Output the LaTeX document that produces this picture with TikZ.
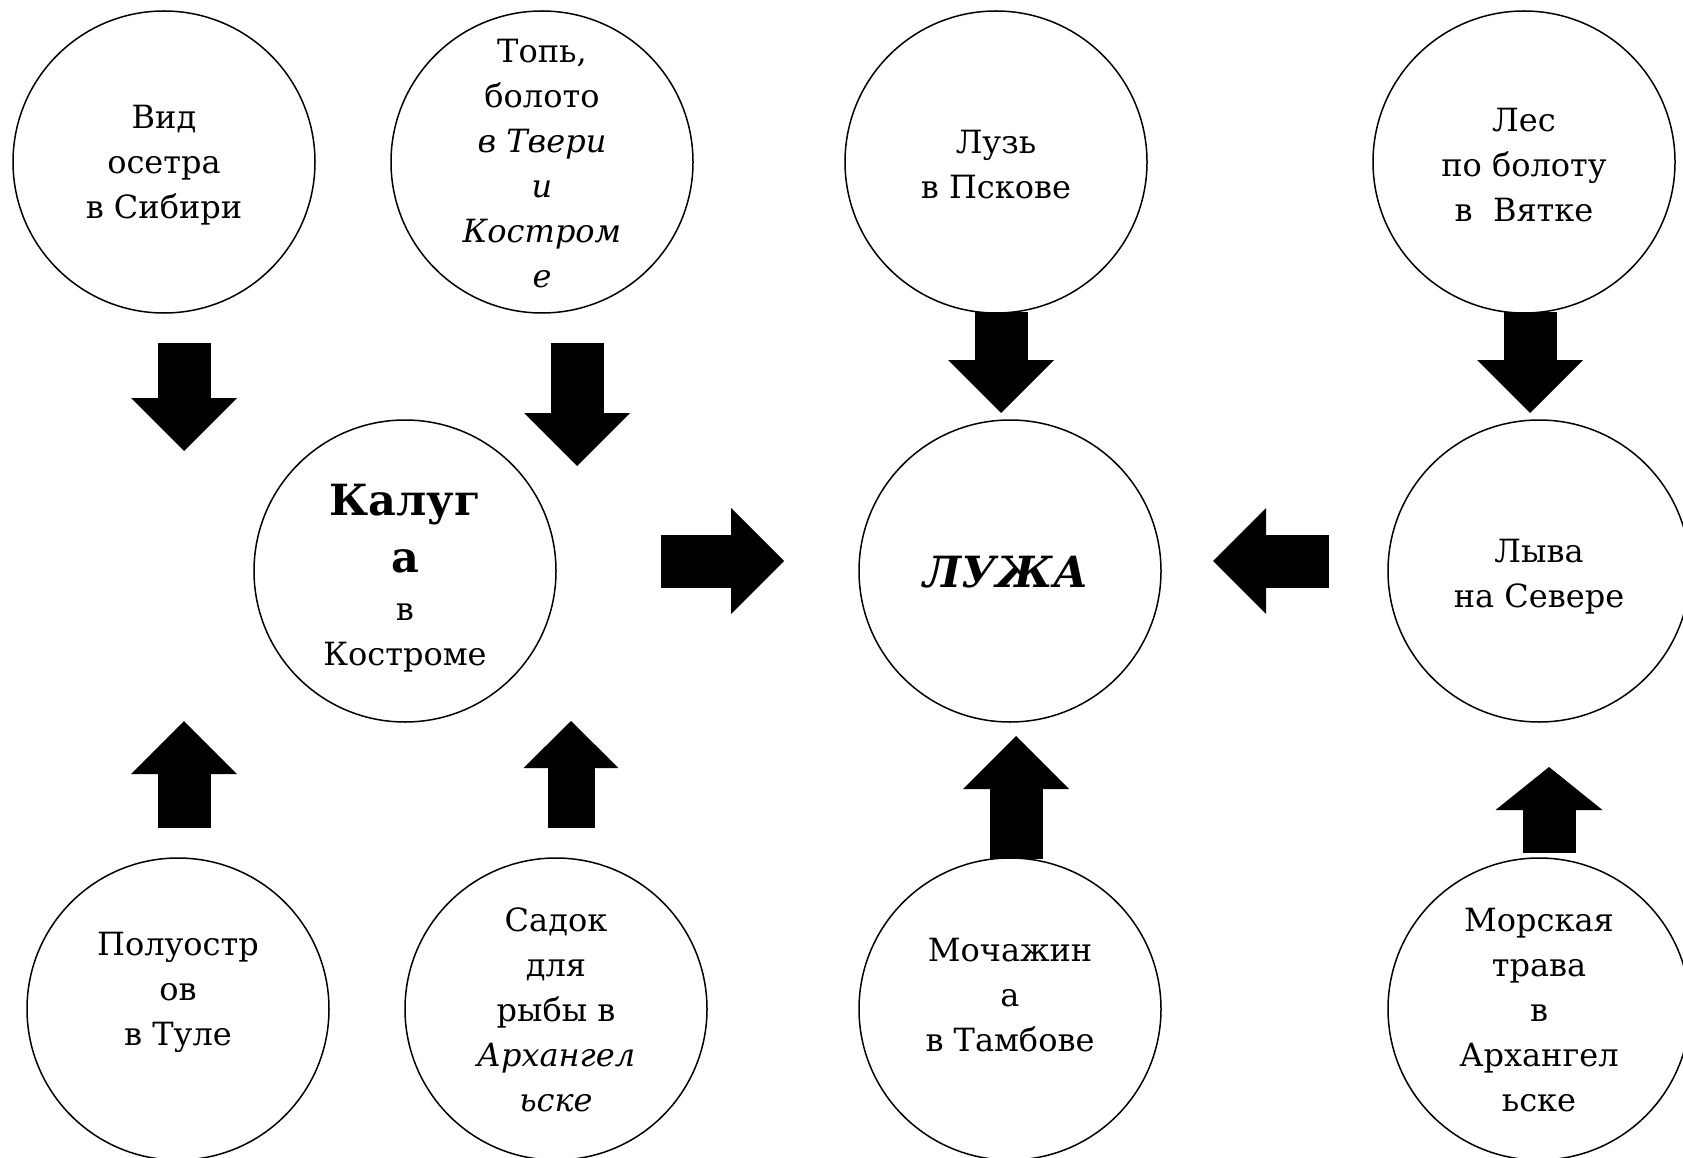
\documentclass[tikz,border=0pt]{standalone}
\usepackage{fontspec}
\setmainfont{DejaVu Serif}
\usetikzlibrary{arrows.meta}

\newcommand\txtfont{\fontsize{32}{45}\selectfont}
\newcommand\bigbf{\fontsize{43}{57}\selectfont\bfseries}

\tikzset{
  disc/.style={draw, circle, line width=1.5pt, minimum size=302pt},
  lbl/.style={font=\txtfont, align=center},
  fatarrow/.style={line width=53pt, -{Triangle[length=53pt,width=106pt,line width=0pt]}}
}

\begin{document}
\begin{tikzpicture}[x=1pt, y=-1pt]
\tikzstyle{every node}+=[inner sep=0pt]
\useasboundingbox (0,0) rectangle (1683,1158);
% circles
\node [disc] (vid) at (164,162) {};
\node [lbl] (vid-t) at (164,165) {Вид\\осетра\\в Сибири};
\node [disc] (top) at (542,162) {};
\node [lbl] (top-t) at (542,164) {Топь,\\болото\\\textit{в Твери}\\\textit{и}\\\textit{Костром}\\\textit{е}};
\node [disc] (kal) at (405,571) {};
\node [lbl] (kal-t) at (405,578) {{\bigbf Калуг}\\[12pt]{\bigbf а}\\[3pt]в\\Костроме};
\node [disc] (luzha) at (1010,571) {};
\node [lbl] (luzha-t) at (1006,572) {{\bigbf\itshape ЛУЖА}};
\node [disc] (luz) at (996,162) {};
\node [lbl] (luz-t) at (996,165) {Лузь\\в Пскове};
\node [disc] (les) at (1524,162) {};
\node [lbl] (les-t) at (1524,165) {Лес\\по болоту\\в\ \ Вятке};
\node [disc] (lyva) at (1539,571) {};
\node [lbl] (lyva-t) at (1539,577) {Лыва\\на Севере};
\node [disc] (polu) at (178,1009) {};
\node [lbl] (polu-t) at (178,992) {Полуостр\\ов\\в Туле};
\node [disc] (sadok) at (556,1009) {};
\node [lbl] (sadok-t) at (556,1010) {Садок\\для\\рыбы в\\\textit{Архангел}\\\textit{ьске}};
\node [disc] (mocha) at (1010,1009) {};
\node [lbl] (mocha-t) at (1010,995) {Мочажин\\а\\в Тамбове};
\node [disc] (morsk) at (1539,1009) {};
\node [lbl] (morsk-t) at (1539,1010) {Морская\\трава\\в\\Архангел\\ьске};
% arrow ends
\coordinate (vid-a) at (184,343);
\coordinate (vid-b) at (184,451);
\coordinate (top-a) at (577,343);
\coordinate (top-b) at (577,466);
\coordinate (kal-a) at (661,561);
\coordinate (kal-b) at (784,561);
\coordinate (lyva-a) at (1329,561);
\coordinate (lyva-b) at (1213,561);
\coordinate (polu-a) at (184,828);
\coordinate (polu-b) at (184,721);
\coordinate (sadok-a) at (571,828);
\coordinate (sadok-b) at (571,721);
\coordinate (luz-a) at (1001,312);
\coordinate (luz-b) at (1001,413);
\coordinate (les-a) at (1530,312);
\coordinate (les-b) at (1530,413);
\coordinate (mocha-a) at (1016,859);
\coordinate (mocha-b) at (1016,736);
\coordinate (morsk-a) at (1549,853);
\coordinate (morsk-b) at (1549,767);
% arrows
\draw [fatarrow] (vid-a) -- (vid-b);
\draw [fatarrow] (top-a) -- (top-b);
\draw [fatarrow] (kal-a) -- (kal-b);
\draw [fatarrow] (lyva-a) -- (lyva-b);
\draw [fatarrow] (polu-a) -- (polu-b);
\draw [line width=47pt, -{Triangle[length=47pt,width=95pt,line width=0pt]}] (sadok-a) -- (sadok-b);
\draw [fatarrow] (luz-a) -- (luz-b);
\draw [fatarrow] (les-a) -- (les-b);
\draw [fatarrow] (mocha-a) -- (mocha-b);
\draw [line width=53pt, -{Triangle[length=43pt,width=107pt,line width=0pt]}] (morsk-a) -- (morsk-b);
\end{tikzpicture}
\end{document}
